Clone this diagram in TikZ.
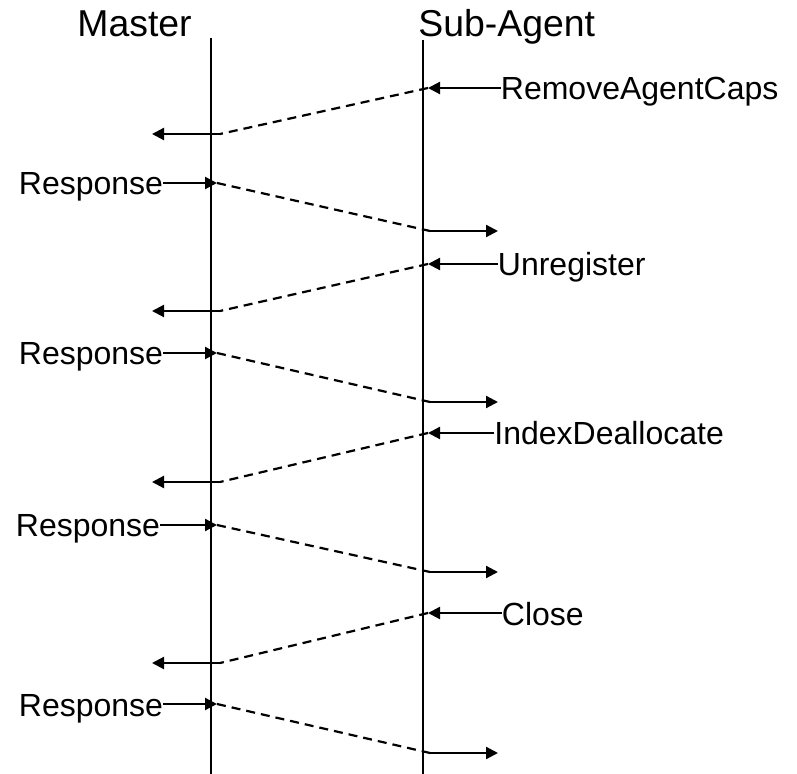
\documentclass[tikz,border=0pt]{standalone}
\usepackage{fontspec}
\setmainfont{Liberation Sans}
\usetikzlibrary{arrows.meta}

\begin{document}
\begin{tikzpicture}[
  x=0.5pt,y=-0.5pt,
  every node/.style={inner sep=0pt},
  head/.style={anchor=base west,font=\fontsize{18.7pt}{22pt}\selectfont},
  call/.style={anchor=base west,font=\fontsize{16pt}{19pt}\selectfont},
  life/.style={line width=1.2pt},
  msg/.style={-{Triangle[length=6pt,width=6pt]},line width=1.1pt},
  ret/.style={line width=1.1pt,dash pattern=on 4.5pt off 3pt}
]
  \useasboundingbox (0,0) rectangle (797,774);
  % lifelines
  \node[head] (master) at (77,37) {Master};
  \node[head] (sub) at (418,37) {Sub-Agent};
  \coordinate (mtop) at (211,38);
  \coordinate (mbot) at (211,774);
  \coordinate (stop) at (423,40);
  \coordinate (sbot) at (423,774);
  \draw[life] (mtop) -- (mbot);
  \draw[life] (stop) -- (sbot);
  % calls into the sub-agent
  \node[call] (c1) at (500.5,100) {RemoveAgentCaps};
  \node[call] (c2) at (497.5,276) {Unregister};
  \node[call] (c3) at (494,445) {IndexDeallocate};
  \node[call] (c4) at (501.5,625) {Close};
  % responses into the master
  \node[call] (r1) at (18.5,195) {Response};
  \node[call] (r2) at (18.5,365) {Response};
  \node[call] (r3) at (15.5,537) {Response};
  \node[call] (r4) at (18.5,716) {Response};
  \foreach \i/\yi/\yl/\yr/\yo in {1/88/134/183/231,2/264/311/353/402,3/433/482/525/572,4/613/663/704/753} {
    \coordinate (s\i) at (428,\yi);
    \coordinate (ml\i) at (220,\yl);
    \coordinate (mo\i) at (152,\yl);
    \coordinate (mr\i) at (217,\yr);
    \coordinate (sr\i) at (430,\yo);
    \coordinate (so\i) at (498,\yo);
    \draw[msg] (c\i.west |- s\i) -- (s\i);
    \draw[ret] (s\i) -- (ml\i);
    \draw[msg] (ml\i) -- (mo\i);
    \draw[msg] (r\i.east |- mr\i) -- (mr\i);
    \draw[ret] (mr\i) -- (sr\i);
    \draw[msg] (sr\i) -- (so\i);
  }
\end{tikzpicture}
\end{document}
